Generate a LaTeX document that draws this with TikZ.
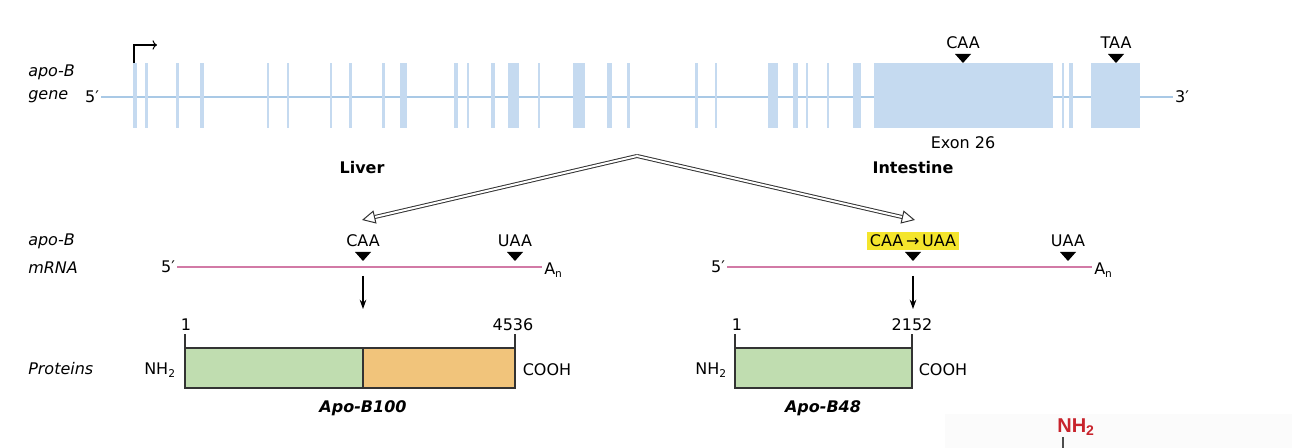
\documentclass[tikz,border=0pt]{standalone}
\usepackage{fontspec}
\setmainfont{DejaVu Sans}
\newfontfamily\redfont{Liberation Sans}
\usetikzlibrary{arrows.meta}
\definecolor{exonblue}{HTML}{C5DAF0}
\definecolor{genelin}{HTML}{A9C9E6}
\definecolor{rnapink}{HTML}{D27AA6}
\definecolor{bgreen}{HTML}{C0DDB0}
\definecolor{borange}{HTML}{F1C47B}
\definecolor{hiyellow}{HTML}{F4E52C}
\definecolor{nhred}{HTML}{C8232C}
\newcommand\figsize{\fontsize{12}{14}\selectfont}
\tikzset{
  lbl/.style={inner sep=1.5pt},
  side/.style={anchor=west,inner sep=0pt,font=\figsize\itshape},
  tissue/.style={inner sep=1pt,font=\figsize\bfseries},
  geneline/.style={draw=genelin,line width=1.4pt},
  mrna/.style={draw=rnapink,line width=1.8pt},
  protbox/.style={draw=black!80,line width=1pt},
  dblarrow/.style={draw=black!80,double=white,double distance=1.5pt,line width=0.75pt,-{Triangle[open,length=10pt,width=10pt]}},
  down/.style={line width=0.8pt,-{Stealth[length=7pt,width=5pt]}},
}
\begin{document}
\begin{tikzpicture}[x=0.75pt,y=-0.75pt,font=\figsize]
\useasboundingbox (0,0) rectangle (1292,448);
\fill[black!1.5] (945,414) rectangle (1292,448);
% gene
\node[side] (apoG) at (28,72) {apo-B}; \node[side] (geneL) at (28,97) {gene};
\node[lbl] (g5) at (92,97) {5′}; \node[lbl] (g3) at (1182,97) {3′};
\draw[geneline] (g5.east) -- (g5.east -| g3.west);
\foreach \a/\b in {133/137,145/147.5,176/178.5,199.5/204,266.5/269,286.5/288.5,329.5/332,349/351.5,381.5/385,400/407,454/458,466.5/468.5,491/495,508/519,538/540,573/585,607/612,627/630,695/698,715/717,768/778,793/798,806/808,827/829,853/861,874/1053,1062/1064,1069/1073,1091/1140}{\fill[exonblue] (\a,63) rectangle (\b,128);}
\coordinate (tss) at (134,63);
\draw[->,thick] (tss) -- (134,45) -- (157,45);
\node[lbl] (caaG) at (963,43) {CAA}; \node[lbl] (taaG) at (1116,43) {TAA};
\foreach \x in {963,1116}{\fill (\x-8,54) -- (\x+8,54) -- (\x,63) -- cycle;}
\node[lbl] (ex26) at (963,143) {Exon 26};
% tissues
\node[tissue] (liver) at (362,168) {Liver}; \node[tissue] (intest) at (913,168) {Intestine};
\coordinate (apex) at (637,156); \coordinate (lvtip) at (362,220); \coordinate (intip) at (915,220);
\draw[dblarrow] (apex) -- (lvtip);
\draw[dblarrow] (apex) -- (intip);
% mRNA
\node[side] (apoM) at (28,241) {apo-B}; \node[side] (mrnaL) at (28,268) {mRNA};
\node[lbl] (m5L) at (168,267) {5′}; \node[lbl,anchor=west] (anL) at (542,270) {A\textsubscript{n}};
\draw[mrna] (m5L.east) -- (m5L.east -| anL.west);
\node[lbl] (m5R) at (718,267) {5′}; \node[lbl,anchor=west] (anR) at (1092,270) {A\textsubscript{n}};
\draw[mrna] (m5R.east) -- (m5R.east -| anR.west);
\node[lbl] (caaL) at (363,241) {CAA}; \node[lbl] (uaaL) at (515,241) {UAA};
\node[fill=hiyellow,inner sep=2.5pt] (edit) at (913,241) {CAA\,→\,UAA}; \node[lbl] (uaaR) at (1068,241) {UAA};
\foreach \x in {363,515,913,1068}{\fill (\x-8,252) -- (\x+8,252) -- (\x,261) -- cycle;}
\coordinate (dnL) at (363,276); \coordinate (dnR) at (913,276);
\draw[down] (dnL) -- ++(0,33);
\draw[down] (dnR) -- ++(0,33);
% proteins
\node[side] (protL) at (28,369) {Proteins};
\fill[bgreen] (185,348) rectangle (363,388); \fill[borange] (363,348) rectangle (515,388);
\draw[protbox] (185,348) rectangle (515,388); \draw[protbox] (363,348) -- (363,388);
\draw[protbox] (185,348) -- (185,334); \draw[protbox] (515,348) -- (515,334);
\fill[bgreen] (735,348) rectangle (912,388);
\draw[protbox] (735,348) rectangle (912,388);
\draw[protbox] (735,348) -- (735,334); \draw[protbox] (912,348) -- (912,334);
\node[lbl] (oneL) at (186,325) {1}; \node[lbl] (endL) at (513,325) {4536};
\node[lbl] (oneR) at (737,325) {1}; \node[lbl] (endR) at (912,325) {2152};
\node[lbl] (nhL) at (160,370) {NH\textsubscript{2}}; \node[lbl] (coL) at (547,370) {COOH};
\node[lbl] (nhR) at (711,370) {NH\textsubscript{2}}; \node[lbl] (coR) at (943,370) {COOH};
\node[lbl,font=\figsize\bfseries\itshape] (b100) at (363,408) {Apo-B100};
\node[lbl,font=\figsize\bfseries\itshape] (b48) at (823,408) {Apo-B48};
% cropped panel
\node[inner sep=1pt,text=nhred,font=\redfont\bfseries\fontsize{15}{16}\selectfont] (rnh) at (1076,427) {NH\textsubscript{2}};
\coordinate (rbot) at (1063,448);
\draw[black!70,line width=0.8pt] (rnh.south -| rbot) -- (rbot);
\end{tikzpicture}
\end{document}
